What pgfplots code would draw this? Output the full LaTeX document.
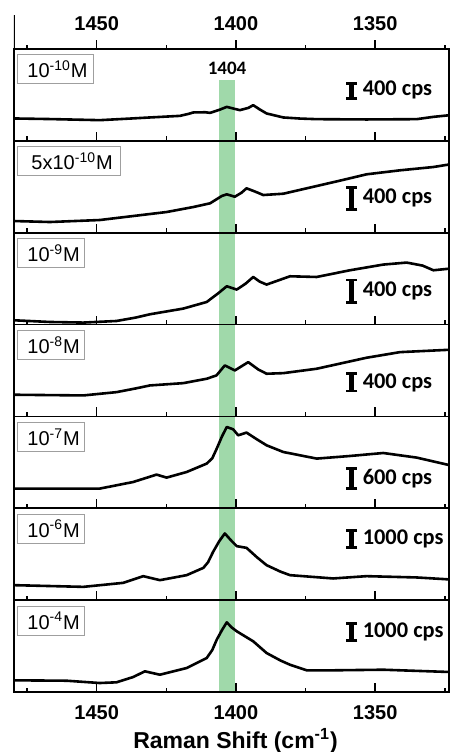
\documentclass[border=0pt]{standalone}
\usepackage{fontspec}
\setmainfont{Liberation Sans}
\newfontfamily\calfont{Carlito}
\usepackage{pgfplots}
\pgfplotsset{compat=1.18}
\usetikzlibrary{arrows.meta}
\definecolor{bandgreen}{RGB}{160,217,170}

\pgfplotsset{
  panel/.style={
    width=217.5pt, height=45.93pt, scale only axis,
    xmin=1323.5, xmax=1479.7, x dir=reverse,
    ymin=0, ymax=91.86, ytick=\empty,
    xtick={1350,1400,1450}, minor xtick={1325,1375,1425,1475},
    xtick pos=bottom, tick align=inside,
    major tick length=4.5pt, minor tick length=2.2pt,
    tick style={black, line width=0.7pt},
    axis line style={line width=0.9pt},
    axis on top,
    scaled x ticks=false,
    /pgf/number format/1000 sep={},
    /pgf/number format/assume math mode=true,
    xticklabel style={font=\bfseries\fontsize{10}{12}\selectfont},
  },
  nolabels/.style={xticklabels={}},
  spec/.style={black, line width=1.3pt, line join=round, line cap=round, mark=none},
  band/.style={draw=none, fill=bandgreen},
}

% scale bar: low, high, middle, text
\newcommand{\scalebar}[4]{%
  \draw[line width=2.4pt, {Bar[width=5.5pt, line width=1.4pt]}-{Bar[width=5.5pt, line width=1.4pt]}]
    (axis cs:1358.4,#1) -- (axis cs:1358.4,#2);
  \node[anchor=west, inner sep=0pt, font=\calfont\bfseries\fontsize{11.2}{13}\selectfont]
    at (axis cs:1354.6,#3) {#4};}
% concentration box
\newcommand{\conc}[3]{%
  \node[anchor=north west, draw=gray!75, line width=0.5pt, inner sep=0pt,
    minimum height=14.5pt, xshift=1.5pt, yshift=-2.75pt,
    font=\fontsize{10}{12}\selectfont] at (rel axis cs:0,1)
    {\hspace*{#1}#3\hspace*{#2}};}

\begin{document}
\begin{tikzpicture}
\path[use as bounding box] (0,0) rectangle (225pt,376pt);

% header with top tick labels
\begin{axis}[panel, at={(7pt,351.5pt)}, anchor=south west, height=17pt,
  ymin=0, ymax=1, axis line style={draw=none},
  xticklabel style={anchor=center, yshift=12.8pt}]
\draw[line width=0.6pt] (rel axis cs:0,0) -- (rel axis cs:0,1);
\end{axis}

% 10^-10 M
\begin{axis}[panel, nolabels, at={(7pt,305.57pt)}, anchor=south west]
\addplot[band] coordinates {(1406,0) (1400.5,0) (1400.5,60.7) (1406,60.7)} -- cycle;
\addplot[spec] coordinates {
(1479.7,22.4) (1466.8,21.8) (1448.9,20.7) (1438,22.3) (1430.9,23.4) (1420.1,25) (1417,27) (1415.3,28.4)
(1411,28.6) (1409.3,28) (1406,31) (1403.3,34) (1400.5,32) (1398.6,30.7) (1395.5,33) (1393.8,35.7)
(1391.5,31.5) (1389,27.4) (1383,23.4) (1377,22.3)
(1371,21.7) (1353.1,21.4) (1335.1,21.7) (1329.1,24) (1323.1,25.7)};
\node[font=\calfont\bfseries\fontsize{9.5}{11}\selectfont, inner sep=0pt] at (axis cs:1403.2,72.2) {1404};
\scalebar{40.7}{59}{50.5}{400 cps}
\conc{5pt}{2.9pt}{10\textsuperscript{-10}M}
\end{axis}

% 5x10^-10 M
\begin{axis}[panel, nolabels, at={(7pt,259.64pt)}, anchor=south west]
\addplot[band] coordinates {(1406,0) (1400.5,0) (1400.5,91.86) (1406,91.86)} -- cycle;
\addplot[spec] coordinates {
(1479.7,11.7) (1466.8,10.7) (1448.9,12.7) (1436.9,16.7) (1424.9,20.7) (1415.3,25.7)
(1409.3,29.4) (1405.1,36.7) (1403.3,38.4) (1400.4,36) (1398,40) (1396.2,44.4) (1393,41) (1390.2,37.7)
(1383,39) (1371,46.7) (1362,52.5) (1353.1,58.4) (1341.1,62.4) (1329.1,65.7) (1323.1,68.4)};
\scalebar{21.7}{46.7}{34.7}{400 cps}
\conc{7pt}{4pt}{5x10\textsuperscript{-10}M}
\end{axis}

% 10^-9 M
\begin{axis}[panel, nolabels, at={(7pt,213.71pt)}, anchor=south west]
\addplot[band] coordinates {(1406,0) (1400.5,0) (1400.5,91.86) (1406,91.86)} -- cycle;
\addplot[spec] coordinates {
(1479.7,4.3) (1466.8,2.6) (1454.8,2) (1442.9,3.6) (1436,7) (1430.9,10.3) (1418.9,16)
(1410.5,22.6) (1406.5,31) (1403.3,38.3) (1399.7,35) (1396.5,41) (1393.8,47.6) (1391.5,43) (1389,40)
(1380.6,48.3) (1371,47.6) (1359.1,54.3) (1347.1,60) (1338.7,62) (1333,59) (1329.1,54.3) (1323.1,56)};
\scalebar{21}{46}{34}{400 cps}
\conc{5pt}{2.5pt}{10\textsuperscript{-9}M}
\end{axis}

% 10^-8 M
\begin{axis}[panel, nolabels, at={(7pt,167.78pt)}, anchor=south west]
\addplot[band] coordinates {(1406,0) (1400.5,0) (1400.5,91.86) (1406,91.86)} -- cycle;
\addplot[spec] coordinates {
(1479.7,21.7) (1454.8,21) (1442.9,24.3) (1436,28) (1430.9,31) (1418.9,33.3) (1410.5,37.7)
(1407,41) (1404,51) (1400.4,46) (1395.6,54.3) (1392,47) (1389,42.7) (1383,43.3)
(1371,47.7) (1353.1,58.7) (1341.1,64.3) (1323.1,66.7)};
\scalebar{24}{44}{34}{400 cps}
\conc{5pt}{2.5pt}{10\textsuperscript{-8}M}
\end{axis}

% 10^-7 M
\begin{axis}[panel, nolabels, at={(7pt,121.85pt)}, anchor=south west]
\addplot[band] coordinates {(1406,0) (1400.5,0) (1400.5,91.86) (1406,91.86)} -- cycle;
\addplot[spec] coordinates {
(1479.7,19.7) (1448.9,19.7) (1436.9,26.3) (1428.5,33.7) (1424.9,30.7) (1417.7,36.3)
(1410.5,44.7) (1408.5,50) (1406.9,59.7) (1405,72) (1403.3,81.3) (1401,79) (1399.2,73) (1396.2,75.7)
(1392.5,69) (1389,63) (1383,56.3) (1371,49.7) (1359.1,52.3) (1347.1,55.3) (1335.1,50.7) (1323.1,43)};
\scalebar{18}{41}{29.5}{600 cps}
\conc{5pt}{2.5pt}{10\textsuperscript{-7}M}
\end{axis}

% 10^-6 M
\begin{axis}[panel, nolabels, at={(7pt,75.92pt)}, anchor=south west]
\addplot[band] coordinates {(1406,0) (1400.5,0) (1400.5,91.86) (1406,91.86)} -- cycle;
\addplot[spec] coordinates {
(1479.7,15) (1454.8,13.3) (1440.5,17.3) (1433.3,24) (1427.3,20) (1417.7,25)
(1411.7,32.3) (1410,38) (1408.2,48.3) (1406,59) (1404,66.7) (1401.5,59) (1399.7,54) (1396.2,52.3)
(1392.5,43) (1389,35) (1384,28.5) (1380.6,25) (1365.1,21.7) (1353.1,24) (1335.1,22.7) (1323.1,20.7)};
\scalebar{51}{71}{61}{1000 cps}
\conc{5pt}{2.5pt}{10\textsuperscript{-6}M}
\end{axis}

% 10^-4 M
\begin{axis}[panel, at={(7pt,29.99pt)}, anchor=south west,
  xticklabel style={anchor=center, yshift=-10.25pt},
  xlabel={Raman Shift (cm\textsuperscript{-1})},
  xlabel style={at={(axis description cs:0.5,0)}, anchor=center, xshift=2pt, yshift=-24.5pt,
    font=\bfseries\fontsize{11.5}{13}\selectfont}]
\addplot[band] coordinates {(1406,0) (1400.5,0) (1400.5,91.86) (1406,91.86)} -- cycle;
\addplot[spec] coordinates {
(1479.7,11.7) (1460.8,11.3) (1448.9,9) (1442.9,9.7) (1436.9,15) (1432.7,20.7)
(1427.3,17.3) (1417.7,24) (1410.5,34) (1408.5,42) (1406.9,52.3) (1405,62) (1403.3,69.7) (1401.5,64.5) (1399.7,60.7)
(1393.8,50.7) (1389,39) (1384,31.5) (1380.6,27.3) (1374.6,21.7) (1365.1,21.7) (1347.1,22.3) (1323.1,20)};
\scalebar{50}{70}{60}{1000 cps}
\conc{5pt}{2.5pt}{10\textsuperscript{-4}M}
\end{axis}
\end{tikzpicture}
\end{document}
